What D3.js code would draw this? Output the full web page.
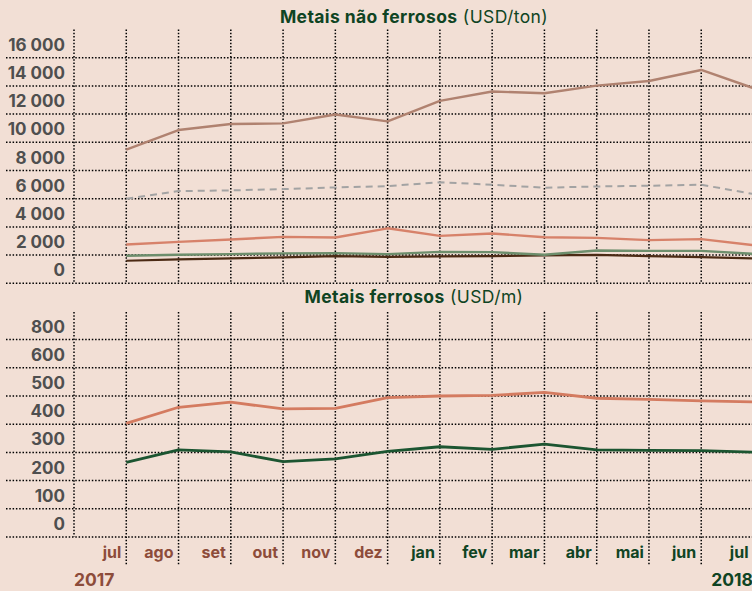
<!DOCTYPE html>
<html>
<head>
<meta charset="utf-8">
<script src="https://cdn.jsdelivr.net/npm/d3@7"></script>
<style>
  html, body { margin: 0; padding: 0; background: #f2dfd5; }
  svg { display: block; font-family: Inter, "Noto Sans", sans-serif; }
</style>
</head>
<body>
<div id="chart"></div>
<script>
// months, jul 2017 .. jul 2018
const months = ["jul", "ago", "set", "out", "nov", "dez", "jan", "fev", "mar", "abr", "mai", "jun", "jul"];
const monthYear = [2017, 2017, 2017, 2017, 2017, 2017, 2018, 2018, 2018, 2018, 2018, 2018, 2018];

// non ferrous (USD/ton)
const nickel = [9480, 10870, 11300, 11340, 11970, 11480, 12940, 13600, 13480, 14020, 14350, 15130, 13840];
const copper = [6000, 6540, 6590, 6680, 6800, 6890, 7170, 6990, 6780, 6870, 6920, 6990, 6330];
const zinc = [2750, 2940, 3110, 3290, 3250, 3900, 3360, 3530, 3270, 3220, 3060, 3130, 2700];
const aluminium = [1950, 2020, 2070, 2120, 2140, 2070, 2230, 2210, 2020, 2330, 2300, 2300, 2090];
const lead = [1600, 1690, 1770, 1840, 1930, 1880, 1910, 1930, 1980, 2020, 1930, 1860, 1770];

// ferrous (USD/m)
const ferrousA = [403, 460, 478, 454, 456, 494, 500, 502, 513, 492, 488, 483, 479];
const ferrousB = [265, 309, 302, 267, 277, 304, 320, 311, 329, 309, 307, 306, 301];

const topTicks = [0, 2000, 4000, 6000, 8000, 10000, 12000, 14000, 16000];
const bottomTicks = ["0", "100", "200", "300", "400", "500", "600", "800"];

const width = 752, height = 591;
const brown = "#8d4c3a", green = "#0f4423", grey = "#4f4f4f";

const svg = d3.select("#chart").append("svg")
  .attr("width", width).attr("height", height);

const x = d3.scaleLinear().domain([-1, 12]).range([74, 753.5]);
const yTop = d3.scaleLinear().domain([0, 16000]).range([283.3, 57.7]);
const yBot = d3.scaleLinear().domain([0, 700]).range([537, 339.6]);

const fmt = d3.formatLocale({ decimal: ",", thousands: " ", grouping: [3], currency: ["", ""] }).format(",d");

const dotted = (sel) => sel
  .attr("stroke", "#000")
  .attr("stroke-width", 1.5)
  .attr("stroke-dasharray", "1.5,1.8")
  .attr("fill", "none");

const grid = svg.append("g");

// horizontal grid
grid.selectAll(".ht").data(topTicks).enter().append("line")
  .attr("x1", 6).attr("x2", width)
  .attr("y1", d => yTop(d)).attr("y2", d => yTop(d))
  .call(dotted);
grid.selectAll(".hb").data(bottomTicks).enter().append("line")
  .attr("x1", 6).attr("x2", width)
  .attr("y1", (d, i) => yBot(i * 100)).attr("y2", (d, i) => yBot(i * 100))
  .call(dotted);

// vertical grid
const vIdx = d3.range(-1, 12);
grid.selectAll(".vt").data(vIdx).enter().append("line")
  .attr("x1", d => x(d)).attr("x2", d => x(d))
  .attr("y1", 29.5).attr("y2", yTop(0))
  .call(dotted);
grid.selectAll(".vb").data(vIdx).enter().append("line")
  .attr("x1", d => x(d)).attr("x2", d => x(d))
  .attr("y1", 312).attr("y2", d => d < 0 ? yBot(0) : 565)
  .call(dotted);

// y labels
svg.append("g").selectAll("text").data(topTicks).enter().append("text")
  .attr("x", 65).attr("y", d => yTop(d) - 7)
  .attr("text-anchor", "end")
  .attr("font-size", 17).attr("font-weight", 700).attr("fill", grey)
  .text(d => fmt(d));
svg.append("g").selectAll("text").data(bottomTicks).enter().append("text")
  .attr("x", 65).attr("y", (d, i) => yBot(i * 100) - 7)
  .attr("text-anchor", "end")
  .attr("font-size", 17).attr("font-weight", 700).attr("fill", grey)
  .text(d => d);

// titles
const title = (y, bold, rest) => {
  const t = svg.append("text")
    .attr("x", 414).attr("y", y).attr("text-anchor", "middle")
    .attr("font-size", 17.5).attr("letter-spacing", 0.4).attr("fill", green);
  t.append("tspan").attr("font-weight", 700).text(bold);
  t.append("tspan").attr("font-weight", 400).text(" " + rest);
};
title(22.5, "Metais não ferrosos", "(USD/ton)");
title(303, "Metais ferrosos", "(USD/m)");

// lines
const lineTop = d3.line().x((d, i) => x(i)).y(d => yTop(d));
const lineBot = d3.line().x((d, i) => x(i)).y(d => yBot(d));

const series = [
  { data: lead, line: lineTop, color: "#4b2a14", w: 2.2 },
  { data: aluminium, line: lineTop, color: "#6d8e6c", w: 2.4 },
  { data: zinc, line: lineTop, color: "#d7826a", w: 2.4 },
  { data: copper, line: lineTop, color: "#a3a3a3", w: 2, dash: "7,5" },
  { data: nickel, line: lineTop, color: "#b08270", w: 2.4 },
  { data: ferrousA, line: lineBot, color: "#d47b60", w: 2.8 },
  { data: ferrousB, line: lineBot, color: "#1c5531", w: 2.8 }
];
svg.append("g").selectAll("path").data(series).enter().append("path")
  .attr("d", d => d.line(d.data))
  .attr("fill", "none")
  .attr("stroke", d => d.color)
  .attr("stroke-width", d => d.w)
  .attr("stroke-dasharray", d => d.dash || null)
  .attr("stroke-linejoin", "round");

// month labels
svg.append("g").selectAll("text").data(months).enter().append("text")
  .attr("x", (d, i) => x(i) - 5).attr("y", 558)
  .attr("text-anchor", "end")
  .attr("font-size", 16).attr("font-weight", 700)
  .attr("fill", (d, i) => monthYear[i] === 2017 ? brown : green)
  .text(d => d);

svg.append("text").attr("x", 74).attr("y", 585.5)
  .attr("font-size", 17.5).attr("font-weight", 700).attr("fill", brown).text("2017");
svg.append("text").attr("x", 753).attr("y", 585.5).attr("text-anchor", "end")
  .attr("font-size", 17.5).attr("font-weight", 700).attr("fill", green).text("2018");
</script>
</body>
</html>
